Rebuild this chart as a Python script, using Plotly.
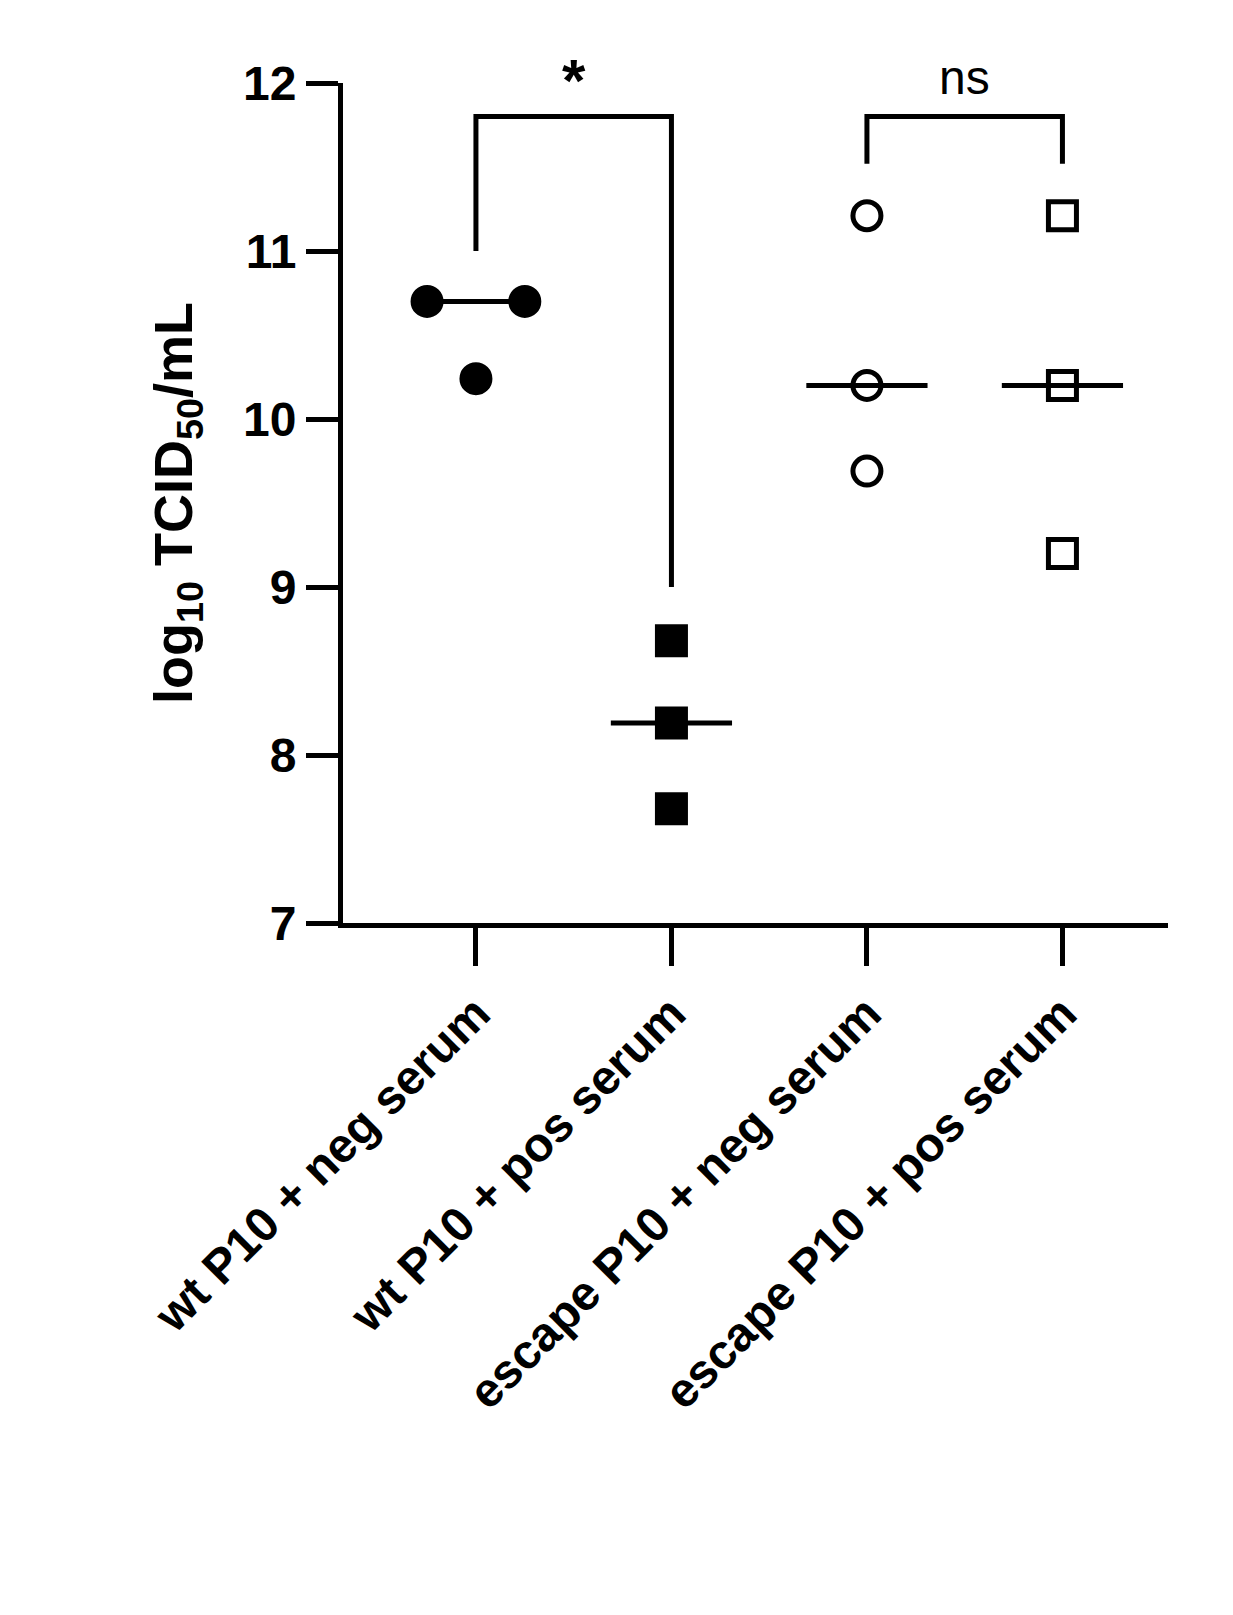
import plotly.graph_objects as go

groups = ["wt P10 + neg serum", "wt P10 + pos serum", "escape P10 + neg serum", "escape P10 + pos serum"]
values = [[10.70, 10.70, 10.24], [8.68, 8.19, 7.68], [11.21, 10.20, 9.69], [11.21, 10.20, 9.20]]
offsets = [[-0.25, 0.25, 0.0], [0, 0, 0], [0, 0, 0], [0, 0, 0]]
medians = [10.70, 8.19, 10.20, 10.20]
symbols = ["circle", "square", "circle-open", "square-open"]
yticks = [7, 8, 9, 10, 11, 12]

fig = go.Figure()
for i, (vals, offs) in enumerate(zip(values, offsets)):
    fig.add_trace(go.Scatter(x=[i + o for o in offs], y=vals, mode="markers", cliponaxis=False,
                             marker=dict(symbol=symbols[i], size=28, color="black",
                                         line=dict(color="black", width=5)), showlegend=False))
    fig.add_shape(type="line", x0=i - 0.31, x1=i + 0.31, y0=medians[i], y1=medians[i],
                  line=dict(color="black", width=5), layer="below")

br = dict(color="black", width=5)
fig.add_trace(go.Scatter(x=[0, 0, 1, 1], y=[11.0, 11.80, 11.80, 9.0], mode="lines", line=br, showlegend=False))
fig.add_trace(go.Scatter(x=[2, 2, 3, 3], y=[11.52, 11.80, 11.80, 11.52], mode="lines", line=br, showlegend=False))
fig.add_annotation(x=0.5, y=1.045, yref="paper", text="<b>*</b>", showarrow=False, font=dict(size=60, color="black", family="Arial"))
fig.add_annotation(x=2.5, y=1.04, yref="paper", text="ns", showarrow=False, font=dict(size=48, color="black", family="Arial"))

fig.update_layout(
    width=1233, height=1615, plot_bgcolor="white", paper_bgcolor="white",
    margin=dict(l=335, r=73, t=75, b=700),
    font=dict(family="Arial", color="black"),
    xaxis=dict(range=[-0.68, 3.54], tickmode="array", tickvals=[0, 1, 2, 3],
               ticktext=[f"<b>{g}</b>" for g in groups], tickangle=-45,
               showline=True, linecolor="black", linewidth=5, ticks="outside",
               ticklen=38, tickwidth=5, tickcolor="black", showgrid=False, zeroline=False,
               tickfont=dict(size=48)),
    yaxis=dict(range=[7, 12], tickvals=yticks, ticktext=[f"<b>{t}</b>" for t in yticks],
               showline=True, linecolor="black", linewidth=5, ticks="outside",
               ticklen=32, tickwidth=5, tickcolor="black", showgrid=False, zeroline=False,
               tickfont=dict(size=48),
               title=dict(text="<b>log<sub>10</sub> TCID<sub>50</sub>/mL</b>", font=dict(size=54), standoff=35)),
)
fig.write_html("out.html")
